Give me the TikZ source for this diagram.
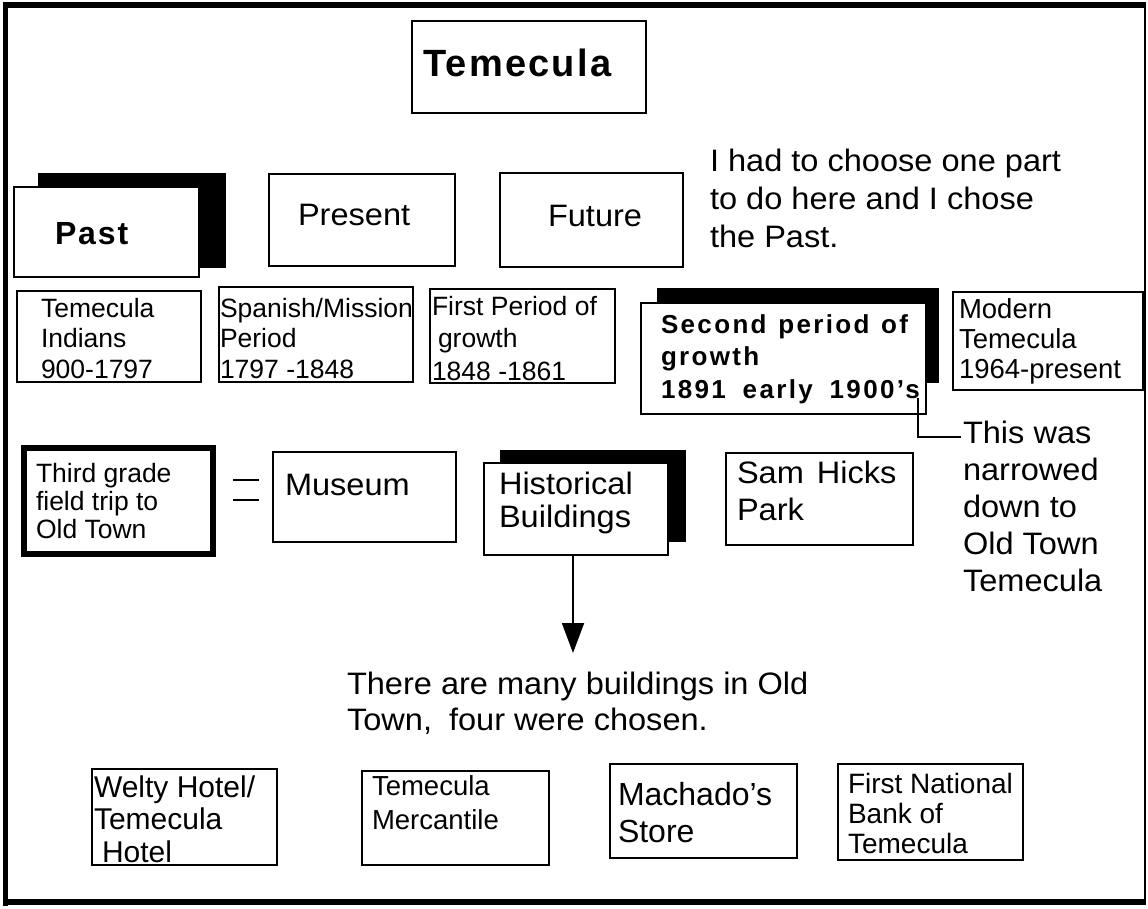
\documentclass[tikz,border=0pt]{standalone}
\usepackage{fontspec}
\setmainfont{Liberation Sans}
\newfontfamily\spA[LetterSpace=9]{Liberation Sans}
\newfontfamily\spB[LetterSpace=6]{Liberation Sans}
\newfontfamily\widefont[FakeStretch=1.05]{Liberation Sans}
\usetikzlibrary{arrows.meta}
\newcommand\fsz[2]{\fontsize{#1}{#2}\selectfont}
\newcommand\mlines[1]{\begin{tabular}[t]{@{}l@{}}#1\end{tabular}}
\tikzset{
  box/.style={draw, line width=2.2pt, fill=white, inner sep=0pt, outer sep=0pt, anchor=north west},
  shadowbox/.style={fill=black, inner sep=0pt, outer sep=0pt, anchor=north west},
  txt/.style={inner sep=0pt, outer sep=0pt, anchor=base west},
  link/.style={line width=1.6pt},
}
\begin{document}
\begin{tikzpicture}[x=1pt,y=-1pt]
\useasboundingbox (0,0) rectangle (1148,909);
% frame
\draw[line width=5.5pt] (5.5,2) -- (5.5,906);
\draw[line width=5.5pt] (3,5) -- (1146,5);
\draw[line width=6pt] (3,902) -- (1146,902);
\draw[line width=2pt] (1145,4) -- (1145,905);

% title
\node[box, line width=2.5pt, minimum width=234pt, minimum height=92pt] (title) at (412,21) {};
\node[txt] (titletxt) at (423,77) {\fsz{38}{40}\spB\bfseries Temecula};

% past / present / future
\node[shadowbox, minimum width=188pt, minimum height=95pt] (pastsh) at (38,173) {};
\node[box, minimum width=185pt, minimum height=90pt] (past) at (14,187) {};
\node[txt] (pasttxt) at (55,245) {\fsz{32}{34}\spB\bfseries Past};
\node[box, minimum width=186pt, minimum height=92pt] (present) at (269,174) {};
\node[txt] (presenttxt) at (298,226) {\fsz{31}{33}\widefont Present};
\node[box, minimum width=183pt, minimum height=94pt] (future) at (500,173) {};
\node[txt] (futuretxt) at (548,227) {\fsz{31}{33}\widefont Future};
\node[txt] (note) at (710,172) {\fsz{31}{38}\widefont\mlines{I had to choose one part\\to do here and I chose\\the Past.}};

% periods
\node[box, minimum width=184pt, minimum height=91pt] (indians) at (17,291) {};
\node[txt] (indianstxt) at (41,317) {\fsz{26.5}{30.5}\mlines{Temecula\\Indians\\900-1797}};
\node[box, minimum width=194pt, minimum height=95pt] (spanish) at (219,287) {};
\node[txt] (spanishtxt) at (220,317) {\fsz{26.5}{30.5}\mlines{Spanish/Mission\\Period\\1797 -1848}};
\node[box, minimum width=185pt, minimum height=94pt] (first) at (430,289) {};
\node[txt] (firsttxt) at (432,316) {\fsz{26.5}{32}\mlines{First Period of\\\hspace*{6pt}growth\\1848 -1861}};
\node[shadowbox, minimum width=282pt, minimum height=95pt] (secondsh) at (657,288) {};
\node[box, minimum width=285pt, minimum height=111pt] (second) at (641,303) {};
\node[txt] (secondtxt) at (661,333) {\fsz{26}{32.5}\spA\bfseries\mlines{\makebox[247pt][s]{Second period of}\\growth\\\makebox[259pt][s]{1891 early 1900’s}}};
\node[box, minimum width=190pt, minimum height=98pt] (modern) at (953,292) {};
\node[txt] (moderntxt) at (959,318) {\fsz{27.5}{30}\mlines{Modern\\Temecula\\1964-present}};

% narrowed note
\coordinate (sdot) at (918,398);
\coordinate (narrowin) at (961,437);
\draw[link] (sdot) |- (narrowin);
\node[txt] (narrowtxt) at (963,443) {\fsz{31}{37.2}\widefont\mlines{This was\\narrowed\\down to\\Old Town\\Temecula}};

% third row
\node[box, line width=6pt, minimum width=189pt, minimum height=106pt] (third) at (24,448) {};
\node[txt] (thirdtxt) at (36,482) {\fsz{26.5}{28}\mlines{Third grade\\field trip to\\Old Town}};
\coordinate (eqa1) at (233,480);
\coordinate (eqa2) at (259,480);
\coordinate (eqb1) at (233,500);
\coordinate (eqb2) at (259,500);
\draw[link] (eqa1) -- (eqa2);
\draw[link] (eqb1) -- (eqb2);
\node[box, minimum width=183pt, minimum height=90pt] (museum) at (273,452) {};
\node[txt] (museumtxt) at (285,495) {\fsz{31}{33}\widefont Museum};
\node[shadowbox, minimum width=186pt, minimum height=92pt] (histsh) at (500,450) {};
\node[box, minimum width=184pt, minimum height=92pt] (hist) at (484,463) {};
\node[txt] (histtxt) at (499,494) {\fsz{31}{33}\widefont\mlines{Historical\\Buildings}};
\node[box, minimum width=187pt, minimum height=92pt] (sam) at (726,453) {};
\node[txt] (samtxt) at (737,483) {\fsz{31}{37}\widefont\mlines{Sam\hspace{4pt} Hicks\\Park}};

% arrow
\coordinate (atip) at (573,653);
\draw[line width=1.8pt, -{Triangle[length=30pt,width=22pt]}] (hist.south -| atip) -- (atip);
\node[txt] (manytxt) at (347,694) {\fsz{31}{36}\widefont\mlines{There are many buildings in Old\\Town,\hspace{8pt} four were chosen.}};

% buildings
\node[box, minimum width=185pt, minimum height=96pt] (welty) at (92,769) {};
\node[txt] (weltytxt) at (94,797) {\fsz{30}{32.5}\mlines{Welty Hotel/\\Temecula\\\hspace*{8pt}Hotel}};
\node[box, minimum width=187pt, minimum height=94pt] (merc) at (362,771) {};
\node[txt] (merctxt) at (372,795) {\fsz{27.5}{34}\mlines{Temecula\\Mercantile}};
\node[box, minimum width=187pt, minimum height=94pt] (mach) at (610,764) {};
\node[txt] (machtxt) at (618,805) {\fsz{32}{37}\mlines{Machado’s\\Store}};
\node[box, minimum width=185pt, minimum height=96pt] (bank) at (838,764) {};
\node[txt] (banktxt) at (848,793) {\fsz{28}{30}\mlines{First National\\Bank of\\Temecula}};
\end{tikzpicture}
\end{document}
